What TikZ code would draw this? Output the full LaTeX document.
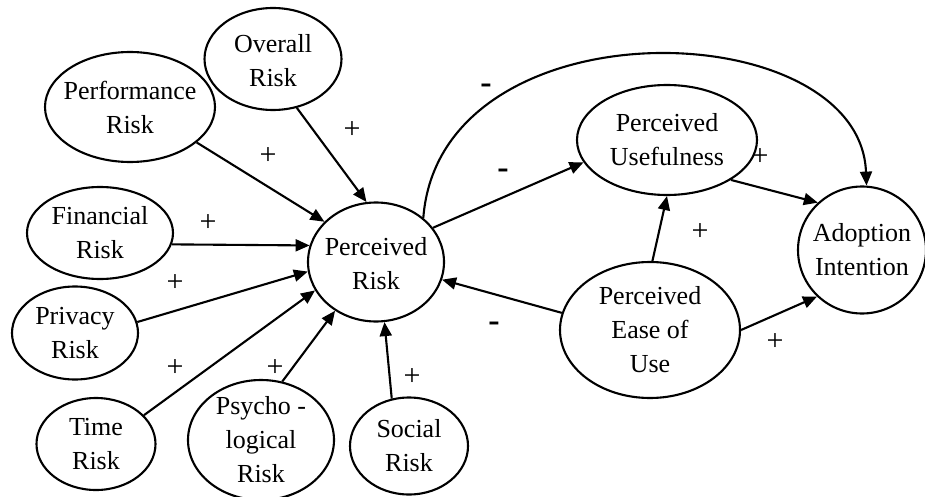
\documentclass[tikz,border=0pt]{standalone}
\usepackage{fontspec}
\setmainfont{Liberation Serif}
\usetikzlibrary{shapes.geometric,arrows.meta}
\begin{document}
\begin{tikzpicture}[x=1pt,y=-1pt,
  oval/.style={draw,ellipse,line width=2.1pt,inner sep=0pt},
  txt/.style={align=center,font=\fontsize{26}{34}\selectfont,inner sep=0pt},
  arr/.style={line width=2.1pt,-{Triangle[length=14pt,width=12pt]}},
  plus/.style={font=\fontsize{30}{30}\selectfont,inner sep=0pt},
  minus/.style={font=\bfseries\fontsize{34}{34}\selectfont,inner sep=0pt}]
\useasboundingbox (0,0) rectangle (925,497);
% ellipses
\node[oval,minimum width=137pt,minimum height=102pt] (ov) at (273,59) {};
\node[oval,minimum width=170pt,minimum height=110pt] (pf) at (130,107) {};
\node[oval,minimum width=146pt,minimum height=92pt] (fi) at (100,233) {};
\node[oval,minimum width=126pt,minimum height=93pt] (pv) at (75,333) {};
\node[oval,minimum width=119pt,minimum height=92pt] (ti) at (96,444) {};
\node[oval,minimum width=146pt,minimum height=120pt] (ps) at (261,440) {};
\node[oval,minimum width=118pt,minimum height=97pt] (so) at (409,446) {};
\node[oval,minimum width=136pt,minimum height=119pt] (pr) at (376,262) {};
\node[oval,minimum width=180pt,minimum height=110pt] (pu) at (667,140) {};
\node[oval,minimum width=128pt,minimum height=127pt] (ai) at (862,250) {};
\node[oval,minimum width=180pt,minimum height=136pt] (pe) at (650,330) {};
% texts
\node[txt] (ovt) at (273,61) {Overall\\Risk};
\node[txt] (pft) at (pf) {Performance\\Risk};
\node[txt] (fit) at (fi) {Financial\\Risk};
\node[txt] (pvt) at (pv) {Privacy\\Risk};
\node[txt] (tit) at (ti) {Time\\Risk};
\node[txt] (pst) at (ps) {Psycho -\\logical\\Risk};
\node[txt] (sot) at (so) {Social\\Risk};
\node[txt] (prt) at (376,264) {Perceived\\Risk};
\node[txt] (put) at (pu) {Perceived\\Usefulness};
\node[txt] (ait) at (ai) {Adoption\\Intention};
\node[txt] (pet) at (pe) {Perceived\\Ease of\\Use};
% connectors
\draw[arr] (ov.-64) -- (pr.99);
\draw[arr] (pf.-28) -- (pr.142);
\draw[arr] (fi.-9) -- (pr.166);
\draw[arr] (pv.10) -- (pr.-172);
\draw[arr] (ti.31) -- (pr.-155);
\draw[arr] (ps.70) -- (pr.-130);
\draw[arr] (so.110) -- (pr.-82);
\draw[arr] (pr.31) -- (pu.-165);
\draw[arr] (pr.43) .. controls (440,0) and (860,12) .. (ai.86);
\draw[arr] (pu.-32) -- (ai.133);
\draw[arr] (pe.88) -- (pu.-90);
\draw[arr] (pe.169) -- (pr.-15);
\draw[arr] (pe.0) -- (ai.-134);
% signs
\node[plus] (s1) at (352,130) {+};
\node[plus] (s2) at (268,156) {+};
\node[plus] (s3) at (208,223) {+};
\node[plus] (s4) at (175,283) {+};
\node[plus] (s5) at (175,368) {+};
\node[plus] (s6) at (275,368) {+};
\node[plus] (s7) at (412,377) {+};
\node[plus] (s8) at (760,157) {+};
\node[plus] (s9) at (700,232) {+};
\node[plus] (s10) at (775,342) {+};
\node[minus] (m1) at (486,89) {-};
\node[minus] (m2) at (503,174) {-};
\node[minus] (m3) at (494,327) {-};
\end{tikzpicture}
\end{document}
